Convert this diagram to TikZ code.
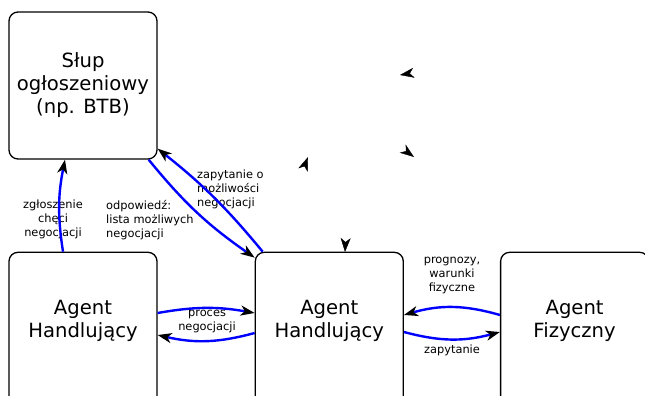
\documentclass[tikz,border=0pt]{standalone}
\usepackage{fontspec}
\setmainfont{DejaVu Sans}
\usetikzlibrary{arrows.meta,positioning}

\begin{document}
\begin{tikzpicture}[x=1pt,y=1pt,>={Stealth[length=14pt,width=10pt,inset=4pt,black]},
 box/.style={draw,line width=1.3pt,rounded corners=9pt,align=center,minimum width=148pt,minimum height=147pt,inner sep=0pt,font=\fontsize{19.6}{23}\selectfont},
 agent/.style={box,minimum height=175pt,text depth=41pt},
 msg/.style={draw=blue,line width=2.4pt,->},
 note/.style={font=\fontsize{11.4}{14}\selectfont,inner sep=0pt},
 ghost/.style={draw=white,line width=0.4pt,->}]
\useasboundingbox (0,0) rectangle (645,-396);
\node[box] (slup) at (83,-85.5) {Słup\\ogłoszeniowy\\(np. BTB)};
\node[agent,below=92pt of slup] (handl) {Agent\\Handlujący};
\node[agent,right=97pt of handl] (handm) {Agent\\Handlujący};
\node[agent,right=96pt of handm] (fiz) {Agent\\Fizyczny};
% opisy komunikatow
\node[note,align=center] (lzgl) at (53,-219) {zgłoszenie\\chęci\\negocjacji};
\node[note,align=left,anchor=west] (lodp) at (106,-220) {odpowiedź:\\lista możliwych\\negocjacji};
\node[note,align=left,anchor=west] (lzap) at (197,-189) {zapytanie o\\możliwości\\negocjacji};
\node[note,align=center] (lproc) at (207,-321) {proces\\negocjacji};
\node[note,align=center] (lprog) at (452,-275) {prognozy,\\warunki\\fizyczne};
\node[note] (lzapf) at (452,-350) {zapytanie};
% komunikaty
\coordinate (hl) at (handl.east |- 0,-313);
\coordinate (hm) at (handm.west |- 0,-313);
\draw[msg,bend left=10] ([xshift=-20pt]handl.north) to ([xshift=-18pt]slup.south);
\draw[msg,bend right=8] ([xshift=-9pt]slup.south east) to ([yshift=-6pt]handm.north west);
\draw[msg,bend right=6] ([xshift=8pt]handm.north west) to ([yshift=11pt]slup.south east);
\draw[msg,bend left=10] (hl) to (hm);
\draw[msg,bend left=14] ([yshift=-20pt]hm) to ([yshift=-22pt]hl);
\draw[msg,bend right=16] ([yshift=-2pt]hm -| fiz.west) to ([yshift=-2pt]hm -| handm.east);
\draw[msg,bend right=15] ([yshift=-19pt]hm -| handm.east) to ([yshift=-19pt]hm -| fiz.west);
% same groty
\coordinate (g1) at (400,-75);
\coordinate (g1t) at (425,-71);
\coordinate (g2) at (308,-157);
\coordinate (g2t) at (300,-178);
\coordinate (g3) at (414,-157);
\coordinate (g3t) at (395,-143);
\coordinate (g4) at (345,-252);
\coordinate (g4t) at (346,-230);
\draw[ghost] (g1t)--(g1);
\draw[ghost] (g2t)--(g2);
\draw[ghost] (g3t)--(g3);
\draw[ghost] (g4t)--(g4);
\end{tikzpicture}
\end{document}
